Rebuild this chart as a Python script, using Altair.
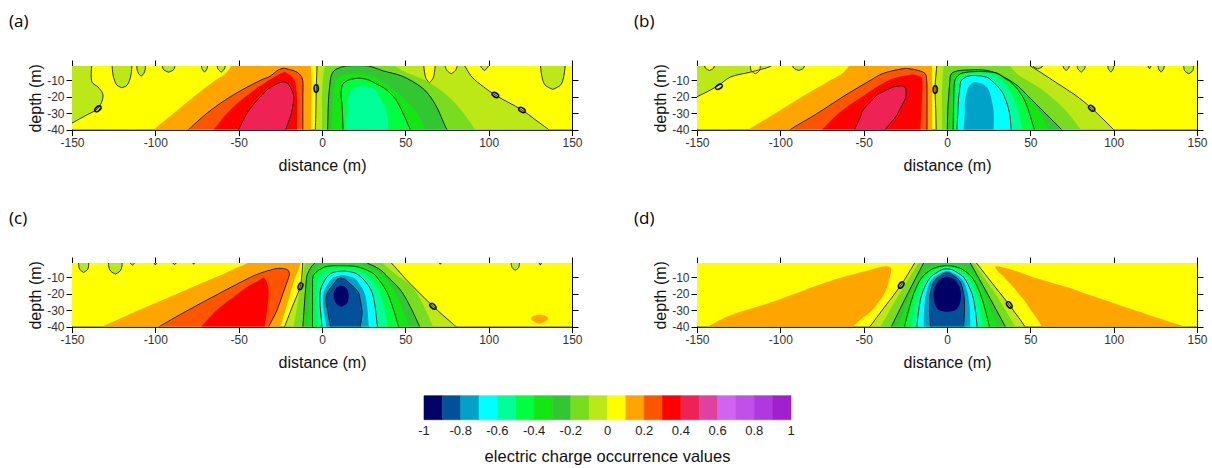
import altair as alt
import pandas as pd

# ---------------- axes / colour classes ----------------
DIST_TICKS = [-150, -100, -50, 0, 50, 100, 150]
DEPTH_TICKS = [-10, -20, -30, -40]
LEVEL_EDGES = [-1.0, -0.9, -0.8, -0.7, -0.6, -0.5, -0.4, -0.3, -0.2, -0.1, 0.0,
               0.1, 0.2, 0.3, 0.4, 0.5, 0.6, 0.7, 0.8, 0.9, 1.0]
LEVEL_CODES = "0123456789ABCDEFGHIJ"   # one character per colour class
COLORS = ["#000066", "#00509a", "#00a2c8", "#00ffff", "#00ff99", "#00ff40",
          "#14e614", "#33c633", "#7adc1e", "#bbe816", "#ffff00", "#ffa500",
          "#ff5500", "#ff0000", "#ee2255", "#e040a0", "#d064f0", "#c050e8",
          "#b038e0", "#a020d0"]
CBAR_TICKS = [-1, -0.8, -0.6, -0.4, -0.2, 0, 0.2, 0.4, 0.6, 0.8, 1]
CBAR_TEXT = ["-1", "-0.8", "-0.6", "-0.4", "-0.2", "0", "0.2", "0.4", "0.6", "0.8", "1"]
CBAR_TITLE = "electric charge occurrence values"

# ---------------- contour regions ----------------
# (class, drawn contour line?, [(depth, x_left, x_right), ...] from bottom to top)
REGIONS_A = [
    ("A", 0, [(-41, -151, 151), (0, -151, 151)]),
    ("9", 1, [(-36.5, -151, -151), (-36, -151, -150), (-31, -151, -141), (-27.3, -151, -134.6),
              (-22, -151, -131.8), (-18, -151, -131.6), (-14, -151, -134.5), (-11, -151, -138), (0, -151, -138)]),
    ("9", 1, [(-14.5, -120, -120), (-13, -123, -117), (-10, -124.5, -115.5), (-6, -125.5, -114.5), (0, -126, -114)]),
    ("9", 1, [(-7.4, -108.5, -108.5), (-6, -110, -107), (-3, -111, -106), (0, -111, -106)]),
    ("9", 1, [(-5, -92, -92), (-3.5, -95, -89), (0, -96, -88)]),
    ("9", 1, [(-5, -70.5, -70.5), (-3, -72, -69), (0, -72.5, -68.5)]),
    ("9", 1, [(-5, -60.5, -60.5), (-3, -62.5, -58.5), (0, -63, -58)]),
    ("B", 0, [(-41, -102, -6.4), (-40, -101, -6.4), (-30, -89, -6.4), (-20, -77, -6.3), (-10, -64, -6.2),
              (-5, -57, -6.5), (0, -54, -7)]),
    ("C", 1, [(-41, -81, -11.5), (-40, -80, -11.5), (-30, -69, -11.5), (-20, -55, -11.5), (-10, -37, -11.6),
              (-7.4, -31, -12.5), (-5, -28, -15), (-3.5, -26, -19), (-2.6, -23, -23)]),
    ("D", 0, [(-41, -66, -15), (-40, -65, -15), (-30, -57, -15), (-20, -46, -15), (-10, -32, -16.5),
              (-7, -27, -19), (-4.8, -22.5, -22.5)]),
    ("E", 1, [(-41, -50.5, -22.1), (-40, -50, -21.8), (-30, -45, -18.4), (-20, -37, -17), (-15, -32, -18.5),
              (-13.5, -29.5, -19.5), (-12, -27, -20.5), (-10.8, -23, -23)]),
    ("9", 1, [(-41, -4, 137), (-40, -4, 136), (-34, -3.8, 128), (-28, -3.7, 120), (-23.5, -3.6, 112),
              (-19, -3.5, 104), (-14, -3.4, 97), (-8, -3.2, 90), (0, -3, 85)]),
    ("9", 1, [(-15.5, 138.5, 138.5), (-13, 134, 143), (-10, 132.5, 144.5), (-5, 131.5, 145.5), (0, 131, 146)]),
    ("9", 1, [(-4, 97.5, 97.5), (-2, 95.5, 99.5), (0, 95, 100)]),
    ("8", 0, [(-41, 0, 93), (-40, 0, 92), (-30, 0, 85), (-20, 0, 76), (-10, 0.5, 62), (-5, 1, 50), (0, 2, 42)]),
    ("A", 1, [(-11.4, 64.5, 64.5), (-9, 62.5, 66.5), (-5, 61.5, 67.5), (0, 61, 68)]),
    ("A", 1, [(-6, 77.5, 77.5), (-4, 75, 80), (0, 73.5, 81.5)]),
    ("7", 1, [(-41, 3.4, 76), (-40, 3.4, 75), (-26.6, 3.7, 69), (-20, 4, 65), (-14.5, 4.5, 60), (-7.4, 5.5, 48),
              (-4.3, 7, 37), (-2.5, 10, 32), (-1.3, 14, 28), (-1.0, 21, 21)]),
    ("6", 0, [(-41, 6, 62.5), (-40, 6, 62), (-30, 6, 57), (-20, 6.5, 48), (-10, 8.5, 35), (-7, 12, 28),
              (-5.8, 20, 20)]),
    ("5", 1, [(-41, 12.6, 53.5), (-40, 12.6, 53), (-24.6, 12, 46), (-20, 11.5, 43), (-14.5, 11.8, 37),
              (-12.4, 12.5, 33), (-10, 15.5, 28.5), (-9, 19, 25), (-8.7, 22, 22)]),
    ("4", 0, [(-41, 14, 40.5), (-40, 14, 40), (-30, 15, 39), (-20, 16, 34.5), (-15, 19, 31), (-13.4, 24, 24)]),
]
LABELS_A = [(-134.6, -27.3, 46), (-3.5, -15.5, 0), (104, -19, 302), (120, -28, 303)]

REGIONS_B = [
    ("A", 0, [(-41, -151, 151), (0, -151, 151)]),
    ("9", 1, [(-20.5, -151, -151), (-20, -151, -150), (-17, -151, -144), (-13, -151, -137), (-8, -151, -130),
              (-5, -151, -118), (-1.5, -151, -106), (0, -151, -104)]),
    ("A", 1, [(-4, -142.5, -142.5), (-2.5, -145, -140), (0, -145.5, -139.5)]),
    ("A", 1, [(-6, -115, -115), (-4, -117.5, -112.5), (0, -118, -112)]),
    ("9", 1, [(-4, -89, -89), (-2.5, -92, -86), (0, -93, -85.5)]),
    ("9", 1, [(-4, 71.5, 71.5), (-2.5, 70, 73), (0, 69.5, 73.5)]),
    ("9", 1, [(-5, 80.5, 80.5), (-3, 78.5, 82.5), (0, 78, 83)]),
    ("9", 1, [(-5, 98.3, 98.3), (-3, 96.8, 99.8), (0, 96.5, 100)]),
    ("9", 1, [(-3, 121.5, 121.5), (0, 120, 123)]),
    ("9", 1, [(-5, 128.5, 128.5), (-3, 127, 130), (0, 126.5, 130.5)]),
    ("9", 1, [(-6, 145, 145), (-4, 142.5, 147.5), (0, 142, 148)]),
    ("B", 0, [(-41, -120, -9), (-40, -119, -9), (-30, -103, -9), (-20, -87, -9), (-10, -70, -9), (-5, -62, -9),
              (0, -58, -9)]),
    ("C", 1, [(-41, -95, -12), (-40, -94, -12), (-30, -77.6, -12), (-20, -62.5, -12), (-10, -46, -12.2),
              (-6, -39, -13), (-4, -32, -17), (-3, -27, -22), (-2.7, -24.5, -24.5)]),
    ("D", 0, [(-41, -76, -16), (-40, -75, -16), (-30, -65, -15.5), (-20, -51, -15), (-10, -35, -14.8),
              (-8, -29, -15.5), (-6.6, -22, -19), (-6.3, -20.5, -20.5)]),
    ("E", 1, [(-41, -56, -37.5), (-40, -55.5, -37), (-31, -51.5, -30), (-29, -51, -29), (-21, -44, -25),
              (-18.5, -41.6, -24.6), (-16, -36.5, -24.6), (-14, -32.3, -25.3), (-13.4, -28, -27),
              (-13.3, -27.5, -27.5)]),
    ("9", 1, [(-41, -6.5, 101), (-40, -6.5, 100), (-27, -6.8, 86.8), (-19, -7.1, 77), (-15.6, -7.2, 72),
              (-11, -7, 65), (-5, -6.5, 56), (0, -6, 48)]),
    ("9", 1, [(-3, 54.5, 54.5), (-1.8, 52, 57), (0, 51, 58)]),
    ("8", 0, [(-41, -3, 81), (-40, -3, 80.3), (-27, -3, 70), (-15, -3, 56), (-6, -2.5, 42), (0, -2, 37)]),
    ("7", 1, [(-41, 0.2, 69.5), (-40, 0.2, 68.7), (-24.6, 0.6, 53.6), (-20, 1, 49), (-13, 1.5, 42),
              (-6, 2.6, 30.4), (-4.3, 6, 25.5), (-3.8, 10, 23), (-3.5, 16.5, 16.5)]),
    ("6", 0, [(-41, 2, 61), (-40, 2, 60.6), (-30, 2, 56), (-20, 2.4, 49), (-10, 3, 38), (-6, 5, 30),
              (-4.5, 10, 24), (-4.1, 17, 17)]),
    ("5", 1, [(-41, 3.7, 53), (-40, 3.7, 52.5), (-22.5, 4, 46.7), (-15, 4.2, 42), (-10.4, 4.6, 37.4),
              (-8.4, 5.5, 34), (-6, 8, 31), (-5, 12, 27), (-4.6, 19, 19)]),
    ("4", 0, [(-41, 5, 46), (-40, 5, 45.5), (-30, 5.2, 43), (-20, 5.5, 39.5), (-10, 6.5, 33), (-7, 9, 28),
              (-6, 13, 23), (-5.8, 18, 18)]),
    ("3", 1, [(-41, 6, 38.6), (-40, 6, 38.5), (-29.4, 6.5, 37.4), (-20, 7, 34.5), (-16.5, 7.5, 32.7),
              (-10.4, 8.4, 27), (-8.4, 10.5, 24.6), (-7.3, 13, 20), (-7, 16, 16)]),
    ("2", 0, [(-41, 10, 28), (-40, 10, 28), (-29.4, 10.7, 28), (-23, 10.7, 27), (-15, 12.5, 24.6),
              (-12, 14.5, 21), (-11, 16.5, 16.5)]),
]
LABELS_B = [(-137, -14, 57), (-7.2, -15.6, 0), (86.8, -27, 312)]

REGIONS_C = [
    ("A", 0, [(-41, -151, 151), (0, -151, 151)]),
    ("9", 1, [(-7, -143, -143), (-5, -145.5, -140.5), (-2, -146, -140), (0, -146, -140)]),
    ("9", 1, [(-8, -124, -124), (-6, -127, -121), (-3, -128, -120), (0, -128, -120)]),
    ("9", 1, [(-2.5, -113.7, -113.7), (-1.4, -115, -112.5), (0, -115.5, -112)]),
    ("9", 1, [(-2.5, -100, -100), (0, -101.5, -98.5)]),
    ("9", 1, [(-2.2, -88.5, -88.5), (0, -91, -86)]),
    ("9", 1, [(-2, -77, -77), (0, -78.5, -75.5)]),
    ("9", 1, [(-2, 71, 71), (0, 69.5, 72.5)]),
    ("9", 1, [(-5.7, 116, 116), (-4, 114, 118), (0, 113.5, 118.5)]),
    ("9", 1, [(-2.5, 131, 131), (0, 129.5, 132.5)]),
    ("B", 0, [(-38.2, 130.3, 130.3), (-37, 127.5, 133.5), (-35.5, 125.5, 135.5), (-34, 126, 135),
              (-32.7, 130.5, 130.5)]),
    ("B", 0, [(-41, -134, -25.3), (-40, -132, -25), (-30, -110, -22), (-20, -87, -19), (-10, -64, -16),
              (-5, -53, -14), (-3, -48, -13.3), (0, -42, -12.6)]),
    ("C", 1, [(-41, -99, -32.5), (-40, -97.6, -32), (-30, -80.4, -27), (-20, -62, -23.5), (-10, -43, -20),
              (-7.8, -38, -19.5), (-5.5, -31, -20.5), (-4.7, -27.6, -23), (-4.5, -25, -25)]),
    ("D", 0, [(-41, -73, -34.8), (-40, -72.4, -34.5), (-30, -63.2, -33), (-20, -50.5, -32), (-15, -43.6, -32.5),
              (-12, -38, -33.5), (-10, -35, -35)]),
    ("9", 1, [(-41, -23, 81.5), (-40, -22.5, 80.4), (-27.6, -17.7, 66.6), (-15.5, -13, 54.5),
              (-10.8, -12.3, 50), (-5, -11.8, 45), (0, -11.5, 40.5)]),
    ("8", 0, [(-41, -17.2, 67), (-40, -17, 66.6), (-17, -13, 55), (-8, -11.3, 44), (0, -10, 35)]),
    ("7", 1, [(-41, -11.6, 59), (-40, -11.5, 58.6), (-19, -10, 48), (-8.8, -9, 38.5), (-6.8, -8.2, 36.8),
              (-3, -6, 31), (-1.5, -4.5, 27.5), (0, -3, 26)]),
    ("6", 0, [(-41, -8.6, 52.5), (-40, -8.6, 52.3), (-19, -7.5, 43.5), (-10, -6.5, 37), (-5, -4, 30),
              (-2, 0, 24), (0, 2, 21)]),
    ("5", 1, [(-41, -5.7, 46.3), (-40, -5.7, 46), (-19, -5.7, 39), (-10, -5.5, 33), (-7.8, -4.5, 31),
              (-5, -1, 25.5), (-3.3, 3, 20), (-2.9, 11, 11)]),
    ("4", 0, [(-41, -2.9, 40), (-40, -2.9, 39.7), (-19, -3.4, 34.5), (-10, -2, 28.5), (-7, 2, 24),
              (-5.5, 6, 18.5), (-4.7, 12, 12)]),
    ("3", 1, [(-41, 0, 33.5), (-40, 0, 33.3), (-19, -1.1, 30), (-12, 1.5, 25.5), (-7.8, 5, 20.7),
              (-6.6, 8, 17), (-6.2, 13, 13)]),
    ("2", 0, [(-41, 2.5, 28.2), (-40, 2.5, 28.1), (-21, 0.6, 26), (-14, 3.5, 22.5), (-10, 7, 18.5),
              (-8.5, 12.5, 12.5)]),
    ("1", 1, [(-41, 5, 23), (-40, 5, 23), (-31, 3.5, 24), (-23, 2.3, 22.8), (-19, 3.5, 21.8), (-14, 7, 17),
              (-11, 9.5, 13.5), (-10.4, 11.5, 11.5)]),
    ("0", 0, [(-28, 11.5, 11.5), (-26, 8.5, 15), (-22, 7, 16), (-18, 7.5, 15.5), (-16, 9, 14),
              (-15, 11.5, 11.5)]),
]
LABELS_C = [(-13, -15.5, 21), (66.6, -27.6, 314)]

REGIONS_D = [
    ("A", 0, [(-41, -151, 151), (0, -151, 151)]),
    ("B", 0, [(-41, -146, -58), (-40, -143.7, -56.6), (-35, -134.4, -51), (-31, -124, -46), (-27, -111, -42.5),
              (-18.7, -88, -37), (-10.6, -65, -34.5), (-6, -48, -33.5), (-4, -41, -33.8), (-3.2, -36.5, -36.5)]),
    ("B", 0, [(-41, 57.5, 146), (-40, 57, 143), (-32.9, 52.5, 121), (-31, 51, 115.5), (-24.8, 47, 97.7),
              (-18.7, 42, 80), (-16.7, 40.5, 74.5), (-9.6, 34, 51), (-5, 29.5, 38), (-3.5, 29, 32),
              (-3.2, 30.5, 30.5)]),
    ("9", 1, [(-41, -46.8, 47.1), (-40, -46.2, 46.7), (-26.8, -36.5, 37.4), (-14.7, -27.6, 28), (0, -18.7, 16.7)]),
    ("8", 0, [(-41, -40.3, 41.4), (-40, -39.8, 40.9), (-20, -28.5, 29), (0, -16.3, 15.3)]),
    ("7", 1, [(-41, -33.9, 35.5), (-40, -33.4, 35), (-20, -23.6, 24.3), (0, -13.4, 13.3)]),
    ("6", 0, [(-41, -29.8, 30.6), (-40, -29.5, 30.3), (-30, -25.7, 26.3), (-20, -21.8, 22.2), (-10, -16.8, 17),
              (-5, -12.5, 12.5), (-2.5, -8, 8), (-1.0, 0, 0)]),
    ("5", 1, [(-41, -25.7, 25.9), (-40, -25.5, 25.5), (-30, -23, 23), (-20, -20, 20), (-10, -15, 15),
              (-5, -9, 9), (-3.8, -6, 6), (-3.1, -3, 3), (-2.9, 0, 0)]),
    ("4", 0, [(-41, -21.9, 21.9), (-40, -21.75, 21.75), (-30, -20, 20), (-20, -17.5, 17.5), (-10, -12.5, 12.5),
              (-6, -7, 7), (-4.3, -3, 3), (-3.9, 0, 0)]),
    ("3", 1, [(-41, -18, 18), (-40, -18, 18), (-30, -17, 17), (-20, -15, 15), (-10, -10, 10), (-7, -6, 6),
              (-5.3, -3, 3), (-4.9, 0, 0)]),
    ("2", 0, [(-41, -14, 14), (-40, -14, 14), (-30, -13.75, 13.75), (-20, -12.5, 12.5), (-12, -9.75, 9.75),
              (-9, -6.4, 6.4), (-7, -3, 3), (-6, 0, 0)]),
    ("1", 1, [(-41, -10, 10), (-40, -10, 10), (-30, -10.5, 10.5), (-20, -10, 10), (-12, -7.5, 7.5),
              (-9, -4, 4), (-7.6, -2, 2), (-7.2, 0, 0)]),
    ("0", 0, [(-31, 0.2, 0.2), (-30, -4.5, 4.8), (-28, -6.5, 6.8), (-24, -7.8, 8.2), (-20, -8, 8.4),
              (-16, -7.2, 7.6), (-12, -5, 5.2), (-10.3, -2.5, 2.7), (-9.6, 0.1, 0.1)]),
]
LABELS_D = [(-27.6, -14.7, 35), (37.4, -26.8, 323)]


def class_value(ch):
    k = LEVEL_CODES.index(ch)
    return round((LEVEL_EDGES[k] + LEVEL_EDGES[k + 1]) / 2, 3)


def region_frames(regions):
    area_rows, line_rows = [], []
    for r, (ch, has_line, pts) in enumerate(regions):
        rid = "r%02d" % r
        v = class_value(ch)
        for k, (d, xl, xr) in enumerate(pts):
            area_rows.append({"rid": rid, "d": d, "xl": xl, "xr": xr, "v": v})
            if has_line:
                line_rows.append({"lid": rid + "L", "k": k, "x": xl, "d": d})
                line_rows.append({"lid": rid + "R", "k": k, "x": xr, "d": d})
    return pd.DataFrame(area_rows), pd.DataFrame(line_rows)


CSCALE = alt.Scale(type="threshold", domain=LEVEL_EDGES[1:-1], range=COLORS)
W, H = 500, 63.6
LABEL_EXPR = "toString(datum.value)"


def xs():
    return alt.Scale(domain=[-150, 150], nice=False, zero=False)


def ys():
    return alt.Scale(domain=[-40, -1.25], nice=False, zero=False)


def panel(regions, labels, tag, with_colorbar=False):
    adf, ldf = region_frames(regions)
    fill = alt.Chart(adf).mark_area(orient="horizontal", interpolate="catmull-rom", clip=True).encode(
        x=alt.X("xl:Q", scale=xs(), stack=None,
                axis=alt.Axis(orient="bottom", values=DIST_TICKS, title="distance (m)",
                              titlePadding=9, labelExpr=LABEL_EXPR)),
        x2="xr:Q",
        y=alt.Y("d:Q", scale=ys(),
                axis=alt.Axis(orient="left", values=DEPTH_TICKS, title="depth (m)",
                              titlePadding=3, labelExpr=LABEL_EXPR)),
        color=alt.Color("v:Q", scale=CSCALE, legend=None),
        detail="rid:N",
    )
    lines = alt.Chart(ldf).mark_line(interpolate="catmull-rom", clip=True, color="#000000",
                                     strokeWidth=0.8).encode(
        x=alt.X("x:Q", scale=xs(), axis=None),
        y=alt.Y("d:Q", scale=ys(), axis=None),
        detail="lid:N",
        order="k:Q",
    )
    lab_df = pd.DataFrame(labels, columns=["x", "d", "ang"]).assign(t="0")
    labs = alt.Chart(lab_df).mark_text(font="Liberation Sans", fontSize=12, fontWeight="bold",
                                       color="#000000", clip=True).encode(
        x=alt.X("x:Q", scale=xs(), axis=None),
        y=alt.Y("d:Q", scale=ys(), axis=None),
        angle=alt.Angle("ang:Q", scale=None),
        text="t:N",
    )
    mirror = alt.Chart(adf).mark_point(opacity=0, clip=True).encode(
        x=alt.X("xl:Q", scale=xs(),
                axis=alt.Axis(orient="top", values=DIST_TICKS, labels=False, title=None)),
        y=alt.Y("d:Q", scale=ys(),
                axis=alt.Axis(orient="right", values=DEPTH_TICKS, labels=False, title=None)),
    )
    layers = [fill, lines, labs, mirror]
    if with_colorbar:
        cb = pd.DataFrame({
            "lo": LEVEL_EDGES[:-1], "hi": LEVEL_EDGES[1:],
            "mid": [round((a + b) / 2, 3) for a, b in zip(LEVEL_EDGES[:-1], LEVEL_EDGES[1:])],
        })
        cbx = alt.Scale(domain=[-1, 1], range=[352, 719], nice=False, zero=False)
        bar = alt.Chart(cb).mark_rect(strokeWidth=0.6).encode(
            x=alt.X("lo:Q", scale=cbx, axis=None),
            x2="hi:Q",
            y=alt.value(132.7), y2=alt.value(156.7),
            color=alt.Color("mid:Q", scale=CSCALE, legend=None),
            stroke=alt.Stroke("mid:Q", scale=CSCALE, legend=None),
        )
        lab = alt.Chart(pd.DataFrame({"t": CBAR_TICKS, "s": CBAR_TEXT})).mark_text(
            font="Liberation Sans", fontSize=13, color="#222222", baseline="middle"
        ).encode(x=alt.X("t:Q", scale=cbx, axis=None), y=alt.value(167.5), text="s:N")
        ttl = alt.Chart(pd.DataFrame({"t": [0], "s": [CBAR_TITLE]})).mark_text(
            font="Liberation Sans", fontSize=16.5, color="#111111", baseline="middle"
        ).encode(x=alt.X("t:Q", scale=cbx, axis=None), y=alt.value(194), text="s:N")
        layers += [bar, lab, ttl]
    ch = alt.layer(*layers).resolve_scale(x="independent", y="independent") \
        .resolve_axis(x="independent", y="independent")
    return ch.properties(
        width=W, height=H,
        title=alt.TitleParams(text=tag, anchor="start", frame="group", dx=-63, offset=29,
                              fontSize=17, font="Open Sans", fontWeight="normal",
                              color="#000000"),
    )


pa = panel(REGIONS_A, LABELS_A, "(a)")
pb = panel(REGIONS_B, LABELS_B, "(b)")
pc = panel(REGIONS_C, LABELS_C, "(c)", with_colorbar=True)
pd_ = panel(REGIONS_D, LABELS_D, "(d)")

chart = alt.concat(pa, pb, pc, pd_, columns=2,
                   spacing={"row": 133, "column": 125}, bounds="flush").properties(
    padding={"left": 8, "top": 12, "right": 0, "bottom": 0},
    background="white",
).configure_view(stroke="#000000", strokeWidth=1).configure_axis(
    labelFont="Liberation Sans", titleFont="Liberation Sans",
    labelFontSize=12, titleFontSize=16, titleFontWeight="normal",
    labelColor="#333333", titleColor="#111111", tickColor="#000000",
    domainColor="#000000", tickSize=6, grid=False, labelPadding=2,
    labelFlush=False, labelOverlap=False,
)

chart.save("out.html", embed_options={"renderer": "svg", "actions": False})
